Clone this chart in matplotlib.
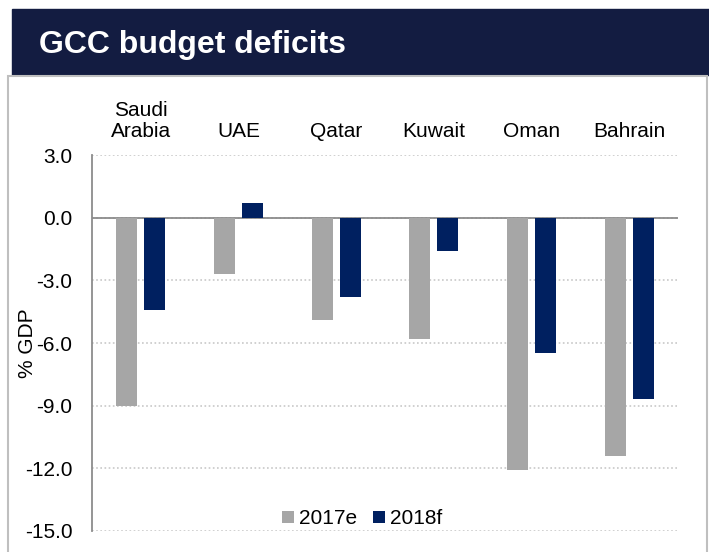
import numpy as np
import matplotlib.pyplot as plt
from matplotlib.patches import Rectangle

plt.rcParams['font.family'] = ['Liberation Sans', 'DejaVu Sans']

countries = ['Saudi\nArabia', 'UAE', 'Qatar', 'Kuwait', 'Oman', 'Bahrain']
deficit_2017e = [-9.0, -2.7, -4.9, -5.8, -12.1, -11.4]
deficit_2018f = [-4.4, 0.7, -3.8, -1.6, -6.5, -8.7]
yticks = [3.0, 0.0, -3.0, -6.0, -9.0, -12.0, -15.0]

W, H = 709, 552
fig = plt.figure(figsize=(W / 100, H / 100), dpi=100)

# title bar and panel frame, kept behind the axes
fig.patches.append(Rectangle((12 / W, 1 - 75 / H), (W - 12) / W, 66 / H,
                             transform=fig.transFigure, color='#131c41', zorder=-10))
fig.patches.append(Rectangle((8 / W, -0.05), (707 - 8) / W, 1 - 76 / H + 0.05,
                             transform=fig.transFigure, facecolor='white',
                             edgecolor='#bfbfbf', lw=1.5, zorder=-10))
fig.text(39 / W, 1 - 53 / H, 'GCC budget deficits', color='white',
         fontsize=23, fontweight='bold', va='baseline', ha='left')

ax = fig.add_axes([92 / W, 1 - 531 / H, (678 - 92) / W, (531 - 155) / H])
ax.set_facecolor('none')

x = np.arange(len(countries))
off = 0.143
bw = 0.215
ax.bar(x - off, deficit_2017e, width=bw, color='#a6a6a6', label='2017e', zorder=3)
ax.bar(x + off, deficit_2018f, width=bw, color='#002060', label='2018f', zorder=3)

ax.set_xlim(-0.5, len(countries) - 0.5)
ax.set_ylim(-15, 3)
ax.set_yticks(yticks)
ax.set_yticklabels([f'{v:.1f}' for v in yticks])
ax.yaxis.grid(True, linestyle=(0, (1, 1.5)), color='#c8c8c8', lw=1.2, zorder=0)
ax.axhline(0, color='#8c8c8c', lw=1.3, zorder=2)

for s in ['top', 'right', 'bottom']:
    ax.spines[s].set_visible(False)
ax.spines['left'].set_color('#8c8c8c')
ax.spines['left'].set_linewidth(1.3)

ax.xaxis.set_ticks_position('top')
ax.set_xticks(x)
ax.set_xticklabels(countries, fontsize=15, linespacing=1.15)
ax.tick_params(axis='x', length=0, pad=10)
ax.tick_params(axis='y', length=0, pad=14, labelsize=15)

ax.set_ylabel('% GDP', fontsize=15)
ax.yaxis.set_label_coords(-55 / (678 - 92), 0.5)

ax.legend(loc='center', bbox_to_anchor=(362 / W, 1 - 519 / H),
          bbox_transform=fig.transFigure, ncol=2, frameon=False, fontsize=15,
          handlelength=0.56, handleheight=0.56, handletextpad=0.24,
          columnspacing=0.77, borderpad=0.2)

fig.savefig('out.png', dpi=100)
